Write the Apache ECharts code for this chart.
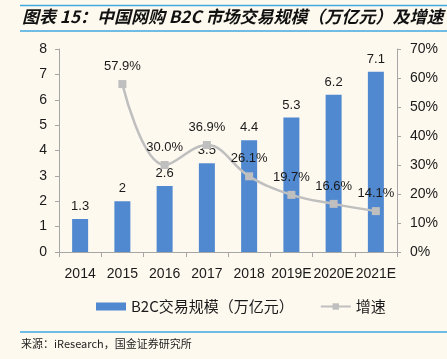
<!DOCTYPE html>
<html><head><meta charset="utf-8">
<script src="https://cdn.jsdelivr.net/npm/echarts@6/dist/echarts.min.js"></script>
<style>html,body{margin:0;padding:0;background:#fdf9ef;}#c{width:447px;height:359px;}</style>
</head><body><div id="c"></div>
<script>
const categories = ['2014','2015','2016','2017','2018','2019E','2020E','2021E'];
const scale = [1.3, 2, 2.6, 3.5, 4.4, 5.3, 6.2, 7.1];
const growth = [null, 57.9, 30.0, 36.9, 26.1, 19.7, 16.6, 14.1];
const leftTicks = [0,1,2,3,4,5,6,7,8];
const rightTicks = [0,10,20,30,40,50,60,70];

const chart = echarts.init(document.getElementById('c'), null, {renderer:'canvas'});
const txt = '#1a1a1a';
const font = '"Liberation Sans", Arial, sans-serif';
chart.setOption({
  backgroundColor: '#fdf9ef',
  animation: false,
  graphic: [
    {type:'line', shape:{x1:20,y1:5.5,x2:447,y2:5.5}, style:{stroke:'#3fa9e0', lineWidth:1.5}},
    {type:'line', shape:{x1:20,y1:31,x2:447,y2:31}, style:{stroke:'#3fa9e0', lineWidth:1.5}},
    {type:'text', left:22, top:8, style:{text:'图表 15：中国网购 B2C 市场交易规模（万亿元）及增速', fill:'#111', font:'italic bold 17px "Noto Sans CJK SC", sans-serif'}},
    {type:'line', shape:{x1:20,y1:332,x2:447,y2:332}, style:{stroke:'#3fa9e0', lineWidth:1.5}},
    {type:'text', left:21, top:338, style:{text:'来源：iResearch，国金证券研究所', fill:'#222', font:'11px "Noto Sans CJK SC", sans-serif'}}
  ],
  grid: {left:59, right:50, top:49, bottom:107},
  legend: {
    bottom: 40, left: 91, itemGap: 26,
    textStyle: {fontSize: 15, color: txt, fontFamily: '"Noto Sans CJK SC", sans-serif'},
    data: [
      {name:'B2C交易规模（万亿元）', icon:'rect', itemStyle:{color:'#5189d1'}},
      {name:'增速'}
    ],
    itemWidth: 30, itemHeight: 8
  },
  xAxis: {
    type:'category', data: categories,
    axisLine:{lineStyle:{color:'#a6a6a6'}},
    axisTick:{show:true, alignWithLabel:false, lineStyle:{color:'#a6a6a6'}},
    axisLabel:{color:txt, fontSize:14, fontFamily:font, margin:15, interval:0}
  },
  yAxis: [
    {type:'value', min:0, max:8, interval:1,
     axisLine:{show:true, lineStyle:{color:'#a6a6a6'}},
     axisTick:{show:true, inside:false, length:4, lineStyle:{color:'#a6a6a6'}},
     splitLine:{show:false},
     axisLabel:{color:txt, fontSize:14, fontFamily:font, margin:12,
       formatter: v => leftTicks.includes(v) ? String(v) : ''}},
    {type:'value', min:0, max:70, interval:10,
     axisLine:{show:true, lineStyle:{color:'#a6a6a6'}},
     axisTick:{show:true, length:4, lineStyle:{color:'#a6a6a6'}},
     splitLine:{show:false},
     axisLabel:{color:txt, fontSize:14, fontFamily:font, margin:13,
       formatter: v => rightTicks.includes(v) ? v + '%' : ''}}
  ],
  series: [
    {name:'B2C交易规模（万亿元）', type:'bar', data: scale, barWidth:16, yAxisIndex:0,
     itemStyle:{color:'#5189d1'},
     label:{show:true, position:'top', distance:6, color:txt, fontSize:13, fontFamily:font}},
    {name:'增速', type:'line', data: growth, yAxisIndex:1, smooth:0.4,
     symbol:'rect', symbolSize:8, connectNulls:false,
     lineStyle:{color:'#bfbfbf', width:2.5}, itemStyle:{color:'#bfbfbf'},
     label:{show:true, position:'top', distance:7, color:txt, fontSize:13, fontFamily:font,
       formatter: p => p.value.toFixed(1) + '%'}}
  ]
});
</script></body></html>
